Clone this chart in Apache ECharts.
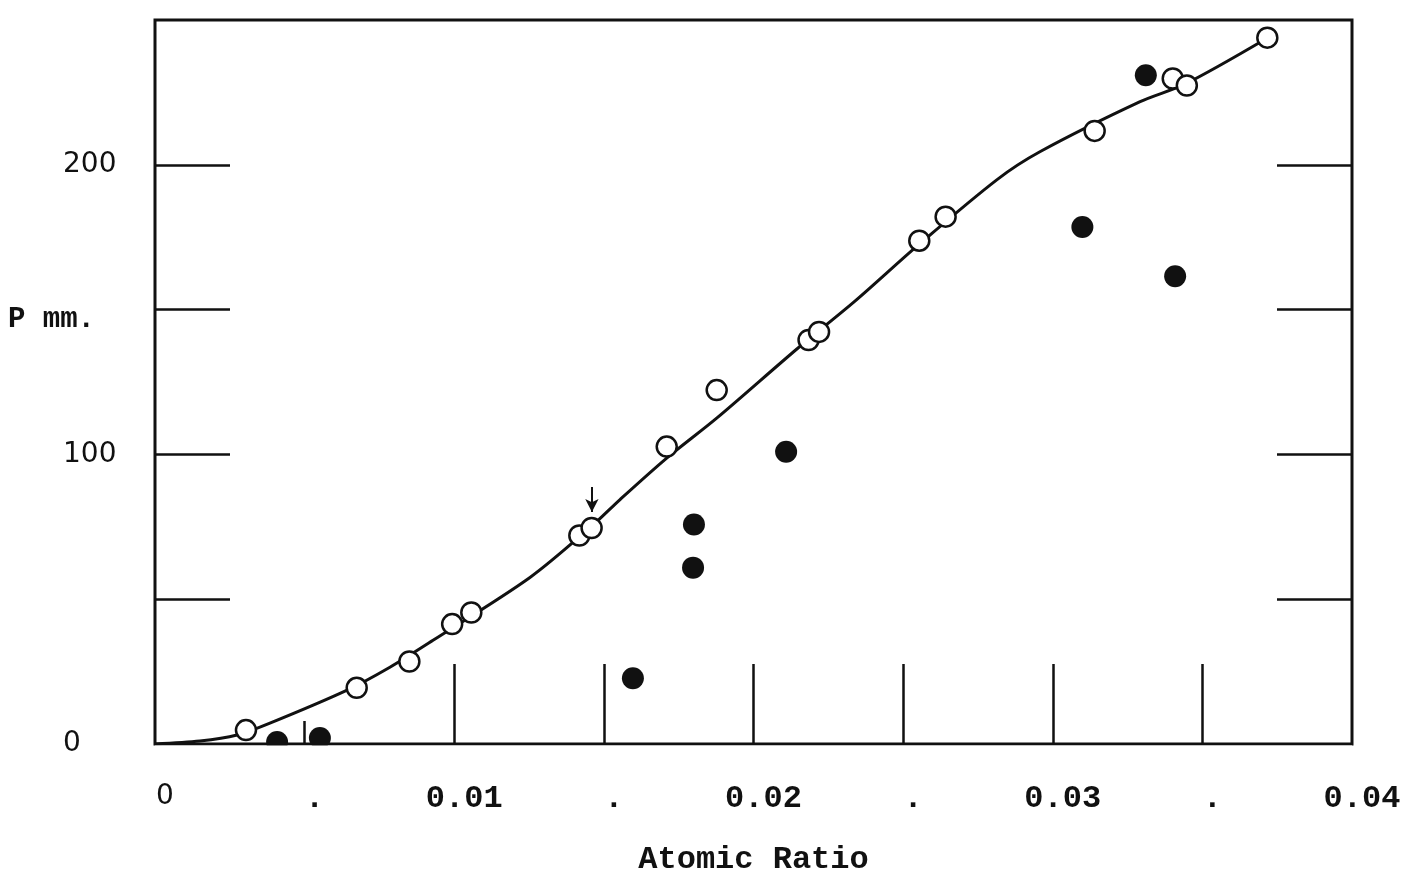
<!DOCTYPE html>
<html>
<head>
<meta charset="utf-8">
<title>P mm. vs Atomic Ratio</title>
<script src="https://cdn.jsdelivr.net/npm/echarts@6/dist/echarts.min.js"></script>
<style>
  html, body { margin: 0; padding: 0; background: #fff; }
  #chart { width: 1428px; height: 887px; }
</style>
</head>
<body>
<div id="chart"></div>
<script>
// open circles (on the curve)
var openX = [0.00304, 0.00674, 0.0085, 0.00993, 0.01057, 0.01418, 0.01459, 0.0171, 0.01877,
             0.02184, 0.02219, 0.02554, 0.02642, 0.0314, 0.03401, 0.03448, 0.03717];
var openY = [4.8, 19.4, 28.5, 41.4, 45.4, 72.0, 74.6, 102.7, 122.2,
             139.5, 142.3, 173.8, 182.1, 211.7, 229.8, 227.4, 243.9];

// filled circles
var filledX = [0.00408, 0.00551, 0.01597, 0.01801, 0.01798, 0.02109, 0.03099, 0.03311, 0.03409];
var filledY = [0.7, 2.1, 22.7, 75.8, 60.9, 100.9, 178.5, 230.9, 161.5];

// drawn curve
var curveX = [0, 0.0015, 0.00274, 0.00384, 0.00642, 0.00785, 0.00929, 0.01253, 0.01457, 0.01554,
              0.01711, 0.01878, 0.02145, 0.02339, 0.02553, 0.02814, 0.02957, 0.03292, 0.03445, 0.03713];
var curveY = [0, 1.0, 3.1, 7.2, 18.6, 26.5, 35.8, 57.5, 75, 84.4,
              98.8, 112.6, 136.4, 152.9, 172.5, 194.9, 204.5, 221.8, 228, 243.5];

// arrow marking one point
var arrowX = 0.0146;
var arrowFrom = 88.7;
var arrowTo = 80.1;

// ticks and labels
var xLabelValues = [0, 0.005, 0.01, 0.015, 0.02, 0.025, 0.03, 0.035, 0.04];
var xLongTicks = [0.01, 0.015, 0.02, 0.025, 0.03, 0.035];
var xShortTicks = [0.005];
var yTicks = [50, 100, 150, 200];
var yLabelValues = [0, 100, 200];

function zip(xs, ys) {
    return xs.map(function (x, i) { return [x, ys[i]]; });
}

var ink = '#111';
var mono = '"Liberation Mono", "DejaVu Sans Mono", monospace';
var sans = '"DejaVu Sans", sans-serif';

var W = 1428, H = 887;
var gridBox = { left: 155, right: 76, top: 20, bottom: 143 };

var myChart = echarts.init(document.getElementById('chart'));

myChart.setOption({
    backgroundColor: '#fff',
    animation: false,
    grid: {
        left: gridBox.left,
        right: gridBox.right,
        top: gridBox.top,
        bottom: gridBox.bottom,
        show: true,
        borderColor: ink,
        borderWidth: 3,
        backgroundColor: 'transparent'
    },
    graphic: [{
        type: 'text',
        left: 8,
        top: 305,
        style: {
            text: 'P mm.',
            font: 'bold 29px ' + mono,
            fill: ink
        }
    }, {
        // paper below the axis: points sitting on it show as half circles
        type: 'rect',
        z: 100,
        silent: true,
        shape: {
            x: gridBox.left,
            y: H - gridBox.bottom + 1.5,
            width: W - gridBox.left - gridBox.right,
            height: 20
        },
        style: { fill: '#fff' }
    }],
    xAxis: [{
        type: 'value',
        min: 0,
        max: 0.04,
        interval: 0.005,
        splitLine: { show: false },
        axisLine: { show: false, onZero: false },
        axisTick: {
            show: true,
            inside: true,
            length: 80,
            customValues: xLongTicks,
            lineStyle: { color: ink, width: 2.5 }
        },
        axisLabel: {
            customValues: xLabelValues,
            margin: 39,
            padding: [0, 0, 0, 20],
            formatter: function (v) {
                if (v === 0) return '{s|0}';
                if (Math.round(v * 1000) % 10 !== 0) return '{d|.}';
                return '{m|' + v.toFixed(2) + '}';
            },
            rich: {
                s: { fontFamily: sans, fontSize: 28, color: ink },
                m: { fontFamily: mono, fontSize: 32, fontWeight: 'bold', color: ink },
                d: { fontFamily: mono, fontSize: 32, fontWeight: 'bold', color: ink }
            }
        },
        name: 'Atomic Ratio',
        nameLocation: 'middle',
        nameGap: 100,
        nameTextStyle: {
            fontFamily: mono,
            fontSize: 32,
            fontWeight: 'bold',
            color: ink
        }
    }, {
        type: 'value',
        min: 0,
        max: 0.04,
        position: 'bottom',
        splitLine: { show: false },
        axisLine: { show: false, onZero: false },
        axisLabel: { show: false },
        axisTick: {
            show: true,
            inside: true,
            length: 23,
            customValues: xShortTicks,
            lineStyle: { color: ink, width: 2.5 }
        }
    }],
    yAxis: [{
        type: 'value',
        min: 0,
        max: 250,
        interval: 50,
        position: 'left',
        splitLine: { show: false },
        axisLine: { show: false, onZero: false },
        axisTick: {
            show: true,
            inside: true,
            length: 75,
            customValues: yTicks,
            lineStyle: { color: ink, width: 2.5 }
        },
        axisLabel: {
            customValues: yLabelValues,
            align: 'left',
            margin: 92,
            fontFamily: sans,
            fontSize: 28,
            color: ink
        }
    }, {
        type: 'value',
        min: 0,
        max: 250,
        interval: 50,
        position: 'right',
        splitLine: { show: false },
        axisLine: { show: false, onZero: false },
        axisLabel: { show: false },
        axisTick: {
            show: true,
            inside: true,
            length: 75,
            customValues: yTicks,
            lineStyle: { color: ink, width: 2.5 }
        }
    }],
    series: [{
        type: 'line',
        data: zip(curveX, curveY),
        smooth: 0.3,
        showSymbol: false,
        lineStyle: { color: ink, width: 3 },
        z: 1,
        silent: true
    }, {
        type: 'scatter',
        data: zip(filledX, filledY),
        symbol: 'circle',
        symbolSize: 22,
        itemStyle: { color: ink, opacity: 1 },
        z: 2
    }, {
        type: 'scatter',
        data: zip(openX, openY),
        symbol: 'circle',
        symbolSize: 20,
        itemStyle: { color: '#fff', borderColor: ink, borderWidth: 2.5, opacity: 1 },
        z: 3,
        markLine: {
            silent: true,
            symbol: ['none', 'arrow'],
            symbolSize: [10, 13],
            label: { show: false },
            lineStyle: { color: ink, width: 2, type: 'solid' },
            data: [[{ coord: [arrowX, arrowFrom] }, { coord: [arrowX, arrowTo] }]]
        }
    }]
});
</script>
</body>
</html>
